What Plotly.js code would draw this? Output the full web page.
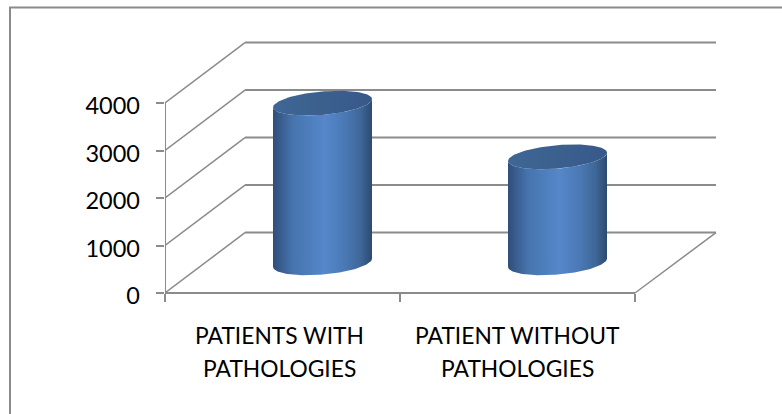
<!DOCTYPE html>
<html>
<head>
<meta charset="utf-8">
<script src="https://cdn.plot.ly/plotly-3.0.1.min.js"></script>
<style>html,body{margin:0;padding:0;background:#fff;overflow:hidden}</style>
</head>
<body>
<div id="chart" style="width:782px;height:414px"></div>
<script>
// Patient counts shown as two cylinders on a pseudo-3D floor and wall.
const categoryLines = [["PATIENTS WITH", "PATHOLOGIES"], ["PATIENT WITHOUT", "PATHOLOGIES"]];
const patientCounts = [3360, 2230];
const gridLevels = [0, 1000, 2000, 3000, 4000];

// Plot rectangle in pixels, and how far the back wall is offset from the front plane.
const W = 782, H = 414;
const plotLeft = 165, plotRight = 717, plotTop = 34, plotBottom = 300;
const zeroLine = 293;
const pxPerCategory = 235, pxPerUnit = 47.5 / 1000;
const depthPxX = 80, depthPxY = 60.4;
const depthX = depthPxX / pxPerCategory, depthY = depthPxY / pxPerUnit;
const xMax = (plotRight - plotLeft) / pxPerCategory;
const yMin = (zeroLine - plotBottom) / pxPerUnit;
const yMax = (zeroLine - plotTop) / pxPerUnit;
const wallEndX = (716 - plotLeft) / pxPerCategory;

const lineGrey = "#8b8b8b";
const traces = [];

function addLine(x, y, width) {
  traces.push({type: "scatter", mode: "lines", x, y, hoverinfo: "skip", cliponaxis: false,
    line: {color: lineGrey, width, simplify: false}});
}

// Wall gridlines with their diagonals across the side wall.
gridLevels.forEach(v => {
  addLine([0, depthX], [v, v + depthY], 1.5);
  addLine([depthX, wallEndX], [v + depthY, v + depthY], 2);
});
// Floor edge and front axes.
addLine([wallEndX, 2], [depthY, 0], 1.5);
addLine([0, 2], [0, 0], 2);
addLine([0, 0], [0, gridLevels[gridLevels.length - 1]], 2);

// One cylinder: body with a horizontal sheen, then a darker elliptical cap.
const rx = 49.5 / pxPerCategory, tiltY = 4.1 / pxPerUnit, ry = 11.7 / pxPerUnit;
const baseY = depthY / 2;
const sheen = [[0, "#2f4f78"], [0.06, "#37598a"], [0.2, "#4674ad"], [0.4, "#4f80bf"],
               [0.52, "#5587ca"], [0.72, "#4a79b6"], [0.88, "#3f6899"], [1, "#2d4a70"]];
const capSheen = [[0, "#3f6695"], [0.5, "#3b608e"], [1, "#37598a"]];
const ANGLE_STEPS = 72;

function ellipsePoint(cx, cy, t) {
  return [cx + rx * Math.cos(t), cy + tiltY * Math.cos(t) + ry * Math.sin(t)];
}

patientCounts.forEach((value, i) => {
  const cx = i + 0.5 + depthX / 2;
  const topY = baseY + value;
  const xs = [], ys = [];
  // Lower arc of the base, left to right.
  for (let k = 0; k <= ANGLE_STEPS; k++) {
    const p = ellipsePoint(cx, baseY, Math.PI + k / ANGLE_STEPS * Math.PI);
    xs.push(p[0]); ys.push(p[1]);
  }
  // Lower arc of the top, right to left.
  for (let k = 0; k <= ANGLE_STEPS; k++) {
    const p = ellipsePoint(cx, topY, 2 * Math.PI - k / ANGLE_STEPS * Math.PI);
    xs.push(p[0]); ys.push(p[1]);
  }
  xs.push(xs[0]); ys.push(ys[0]);
  traces.push({type: "scatter", mode: "lines", x: xs, y: ys, fill: "toself",
    fillgradient: {type: "horizontal", colorscale: sheen},
    line: {width: 0, color: "rgba(0,0,0,0)"}, hoverinfo: "skip"});

  const capX = [], capY = [];
  for (let k = 0; k <= ANGLE_STEPS * 2; k++) {
    const p = ellipsePoint(cx, topY, k / ANGLE_STEPS * Math.PI);
    capX.push(p[0]); capY.push(p[1]);
  }
  traces.push({type: "scatter", mode: "lines", x: capX, y: capY, fill: "toself",
    fillgradient: {type: "horizontal", colorscale: capSheen},
    line: {width: 0, color: "rgba(0,0,0,0)"}, hoverinfo: "skip"});
});

// A second, label-only value axis sits a few pixels lower than the tick marks.
const labelDropPx = 3;
const labelDrop = labelDropPx / pxPerUnit;
traces.push({type: "scatter", mode: "lines", x: [0], y: [0], yaxis: "y2",
  line: {width: 0}, hoverinfo: "skip"});

const plotW = plotRight - plotLeft, plotH = plotBottom - plotTop;
const labelFont = {family: "Lato, Carlito, sans-serif", size: 22.8, color: "#000"};
const tickFont = {family: "Lato, Carlito, sans-serif", size: 23.5, color: "#000"};

const baselineDrops = [41.5, 74.5];
const categoryNudge = [-3, 0];

const layout = {
  width: W, height: H,
  margin: {l: plotLeft, r: W - plotRight, t: plotTop, b: H - plotBottom, pad: 0},
  paper_bgcolor: "#fff", plot_bgcolor: "rgba(0,0,0,0)",
  showlegend: false, hovermode: false,
  xaxis: {type: "linear", range: [0, xMax], anchor: "free", position: (plotBottom - zeroLine) / plotH,
    tickmode: "array", tickvals: [0, 1, 2],
    ticktext: ["", "", ""], ticks: "outside", ticklen: 8, tickwidth: 2, tickcolor: lineGrey,
    showgrid: false, zeroline: false, showline: false, fixedrange: true},
  yaxis: {range: [yMin, yMax], tickmode: "array", tickvals: gridLevels,
    ticktext: gridLevels.map(() => ""), ticks: "outside", ticklen: 8, tickwidth: 2,
    tickcolor: lineGrey, showgrid: false, zeroline: false, showline: false, fixedrange: true},
  yaxis2: {overlaying: "y", side: "left", anchor: "x",
    range: [yMin + labelDrop, yMax + labelDrop], tickmode: "array", tickvals: gridLevels,
    ticktext: gridLevels.map(String), ticks: "", ticklabelstandoff: 24, tickfont: tickFont,
    showgrid: false, zeroline: false, showline: false, fixedrange: true},
  annotations: categoryLines.flatMap((lines, i) => lines.map((text, j) => ({
    text, x: i + 0.5, xref: "x", y: 0, yref: "y", yshift: -baselineDrops[j], yanchor: "middle",
    xshift: categoryNudge[i], xanchor: "center", showarrow: false, font: labelFont
  }))),
  // Outer chart frame: its right and bottom sides run off the canvas.
  shapes: [{type: "path", xref: "paper", yref: "paper", layer: "below",
    path: "M " + ((10 - plotLeft) / plotW) + " " + ((plotBottom - 430) / plotH) +
          " L " + ((10 - plotLeft) / plotW) + " " + ((plotBottom - 7.5) / plotH) +
          " L " + ((800 - plotLeft) / plotW) + " " + ((plotBottom - 7.5) / plotH),
    line: {color: lineGrey, width: 2}}]
};

Plotly.newPlot("chart", traces, layout, {displayModeBar: false, staticPlot: true});
</script>
</body>
</html>
